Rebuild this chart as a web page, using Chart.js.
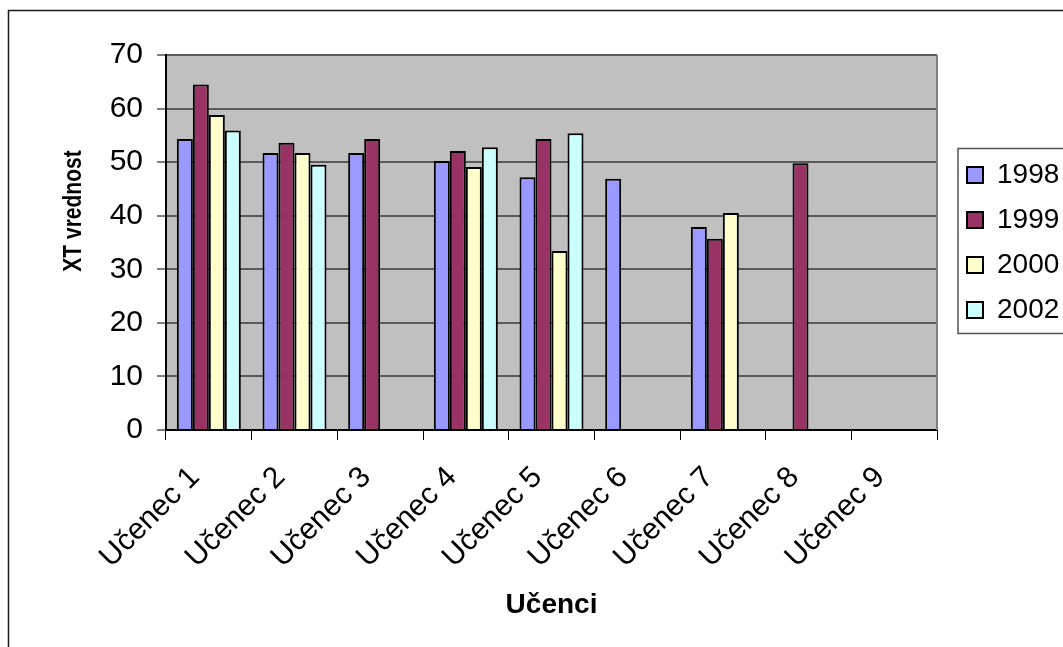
<!DOCTYPE html>
<html lang="sl">
<head>
<meta charset="utf-8">
<title>XT vrednost po učencih</title>
<script src="https://cdn.jsdelivr.net/npm/chart.js@4/dist/chart.umd.min.js"></script>
<style>
  html, body { margin: 0; padding: 0; background: #ffffff; }
  #wrap { width: 1063px; height: 647px; position: relative; }
</style>
</head>
<body>
<div id="wrap"><canvas id="chart" width="1063" height="647"></canvas></div>
<script>
// Data
const categories = ['Učenec 1', 'Učenec 2', 'Učenec 3', 'Učenec 4', 'Učenec 5',
                    'Učenec 6', 'Učenec 7', 'Učenec 8', 'Učenec 9'];
const seriesNames = ['1998', '1999', '2000', '2002'];
const values1998 = [54.3, 51.7, 51.7, 50.2, 47.2, 46.9, 37.9, null, null];
const values1999 = [64.5, 53.6, 54.3, 52.1, 54.3, null, 35.7, 49.8, null];
const values2000 = [58.8, 51.7, null, 49.1, 33.4, null, 40.5, null, null];
const values2002 = [55.9, 49.5, null, 52.8, 55.4, null, null, null, null];
const yTickValues = [0, 10, 20, 30, 40, 50, 60, 70];
const xTitle = 'Učenci';
const yTitle = 'XT vrednost';

const FONT = "'Liberation Sans', Arial, sans-serif";
const seriesValues = [values1998, values1999, values2000, values2002];
const seriesColors = ['#9999ff', '#993366', '#ffffcc', '#ccffff'];

// Page frame, grey plot area, legend box and the vertical axis title
const decorations = {
  id: 'decorations',
  afterInit(chart) {
    const legend = chart.legend;
    const baseFit = legend.fit;
    legend.fit = function () {
      baseFit.call(this);
      if (!this.isHorizontal()) this.width = 126;
    };
  },
  afterLayout(chart) {
    chart.legend.left += 13;
    chart.legend.right += 13;
  },
  beforeDraw(chart) {
    const { ctx, chartArea: a } = chart;
    ctx.save();
    ctx.fillStyle = '#ffffff';
    ctx.fillRect(0, 0, chart.width, chart.height);
    ctx.fillStyle = '#c0c0c0';
    ctx.fillRect(a.left, a.top, a.right - a.left, a.bottom - a.top);
    ctx.restore();
  },
  afterDraw(chart) {
    const { ctx, chartArea: a, legend } = chart;
    ctx.save();
    // right edge of the plot area
    ctx.strokeStyle = '#808080';
    ctx.lineWidth = 2;
    ctx.beginPath();
    ctx.moveTo(a.right, a.top);
    ctx.lineTo(a.right, a.bottom);
    ctx.stroke();
    // outer chart border
    ctx.strokeStyle = '#1a1a1a';
    ctx.lineWidth = 1.5;
    ctx.strokeRect(8.5, 10.5, chart.width + 20, chart.height + 20);
    // legend border
    const midY = (legend.top + legend.bottom) / 2;
    ctx.strokeStyle = '#555555';
    ctx.lineWidth = 1.5;
    ctx.strokeRect(legend.left + 8, midY - 94, 200, 185);
    // vertical axis title (wide, bold lettering)
    ctx.translate(74, 211);
    ctx.rotate(-Math.PI / 2);
    ctx.scale(1, 1.25);
    ctx.fillStyle = '#000000';
    ctx.font = 'bold 21px ' + FONT;
    ctx.textAlign = 'center';
    ctx.textBaseline = 'middle';
    ctx.fillText(yTitle, 0, 0);
    ctx.restore();
  }
};

new Chart(document.getElementById('chart'), {
  type: 'bar',
  data: {
    labels: categories,
    datasets: seriesNames.map((name, i) => ({
      label: name,
      data: seriesValues[i],
      backgroundColor: seriesColors[i],
      borderColor: '#000000',
      borderWidth: 2,
      borderSkipped: 'start',
      categoryPercentage: 0.747,
      barPercentage: 1.0
    }))
  },
  options: {
    responsive: false,
    animation: false,
    devicePixelRatio: 1,
    layout: { padding: { top: 55, left: 0, right: 0, bottom: 0 } },
    plugins: {
      tooltip: { enabled: false },
      legend: {
        position: 'right',
        fullSize: false,
        labels: {
          font: { family: FONT, size: 28 },
          color: '#000000',
          boxWidth: 16,
          boxHeight: 16,
          padding: 17
        }
      }
    },
    scales: {
      x: {
        afterFit(scale) { scale.height = 217; },
        grid: {
          offset: true,
          drawOnChartArea: false,
          drawTicks: true,
          tickLength: 10,
          tickColor: '#000000',
          lineWidth: 1
        },
        border: { display: true, color: '#000000', width: 2 },
        ticks: {
          font: { family: FONT, size: 30 },
          color: '#000000',
          minRotation: 45,
          maxRotation: 45,
          padding: 20,
          labelOffset: -14,
          autoSkip: false
        },
        title: {
          display: true,
          text: xTitle,
          font: { family: FONT, size: 28, weight: 'bold' },
          color: '#000000',
          padding: { top: 0, bottom: 25 }
        }
      },
      y: {
        min: yTickValues[0],
        max: yTickValues[yTickValues.length - 1],
        afterFit(scale) { scale.width = 166; },
        afterBuildTicks(scale) { scale.ticks = yTickValues.map(v => ({ value: v })); },
        grid: {
          color: '#5a5a5a',
          lineWidth: 2,
          drawTicks: true,
          tickLength: 9,
          tickColor: '#000000',
          tickWidth: 1
        },
        border: { display: true, color: '#000000', width: 2 },
        ticks: {
          font: { family: FONT, size: 30 },
          color: '#000000',
          padding: 14
        }
      }
    }
  },
  plugins: [decorations]
});
</script>
</body>
</html>
